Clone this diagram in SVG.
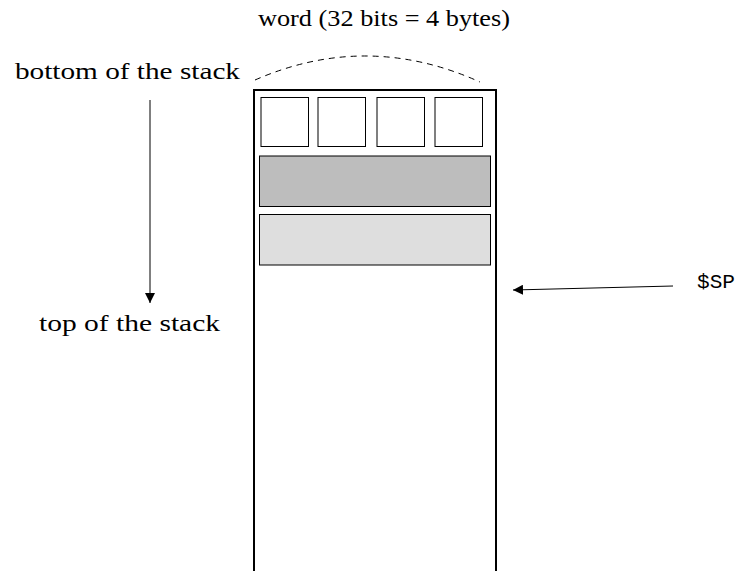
<svg xmlns="http://www.w3.org/2000/svg" width="740" height="571" viewBox="0 0 740 571">
<defs>
<marker id="ah" viewBox="0 0 10 10" refX="10" refY="5" markerWidth="10" markerHeight="10" markerUnits="userSpaceOnUse" orient="auto">
<path d="M0,0 L10,5 L0,10 z" fill="#000"/>
</marker>
</defs>
<rect width="740" height="571" fill="#fff"/>
<g style="font-family:'Liberation Serif','DejaVu Serif',serif;font-size:24px" fill="#000">
<g id="word-label"><text x="258" y="26" textLength="252" lengthAdjust="spacingAndGlyphs">word (32 bits = 4 bytes)</text></g>
<g id="bottom-label"><text x="15" y="79" textLength="225" lengthAdjust="spacingAndGlyphs">bottom of the stack</text></g>
<g id="top-label"><text x="39" y="331" textLength="181" lengthAdjust="spacingAndGlyphs">top of the stack</text></g>
</g>
<g id="sp-label"><text x="697" y="288" style="font-family:'Liberation Mono','DejaVu Sans Mono',monospace;font-size:20px" fill="#000" textLength="38" lengthAdjust="spacingAndGlyphs">$SP</text></g>
<g id="stack"><path d="M254,575 V90 H496 V575" fill="none" stroke="#000" stroke-width="2"/></g>
<g id="byte1"><rect x="261" y="97.5" width="47.5" height="49" fill="#fff" stroke="#000" stroke-width="1"/></g>
<g id="byte2"><rect x="318" y="97.5" width="47.5" height="49" fill="#fff" stroke="#000" stroke-width="1"/></g>
<g id="byte3"><rect x="377" y="97.5" width="47.5" height="49" fill="#fff" stroke="#000" stroke-width="1"/></g>
<g id="byte4"><rect x="435" y="97.5" width="47.5" height="49" fill="#fff" stroke="#000" stroke-width="1"/></g>
<g id="word1"><rect x="259.5" y="156" width="231" height="50.5" fill="#bdbdbd" stroke="#000" stroke-width="1"/></g>
<g id="word2"><rect x="259.5" y="214.5" width="231" height="50.5" fill="#dedede" stroke="#000" stroke-width="1"/></g>
<g id="connectors" fill="none" stroke="#000" stroke-width="1">
<path d="M255,80 Q367,31 480,82" stroke-dasharray="6,5"/>
<line x1="150" y1="100" x2="150" y2="303" marker-end="url(#ah)"/>
<line x1="673" y1="286" x2="513" y2="290" marker-end="url(#ah)"/>
</g>
</svg>
